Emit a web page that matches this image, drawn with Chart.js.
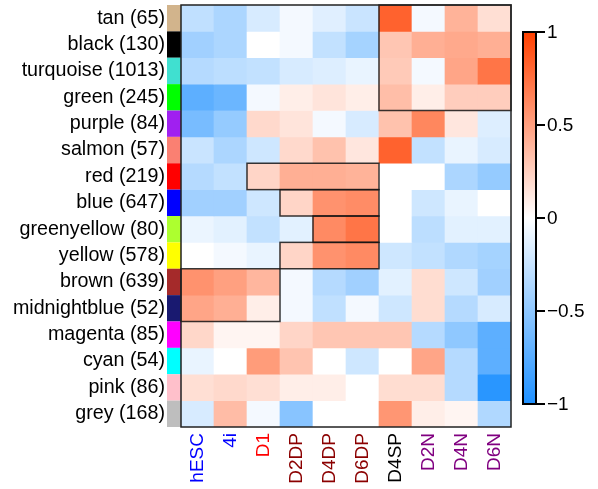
<!DOCTYPE html>
<html>
<head>
<meta charset="utf-8">
<script src="https://cdn.jsdelivr.net/npm/chart.js@4"></script>
<style>
  html, body { margin: 0; padding: 0; background: #fff; }
  #wrap { width: 598px; height: 489px; }
</style>
</head>
<body>
<div id="wrap"><canvas id="heat"></canvas></div>
<script>
const rows = ['tan (65)', 'black (130)', 'turquoise (1013)', 'green (245)', 'purple (84)', 'salmon (57)',
    'red (219)', 'blue (647)', 'greenyellow (80)', 'yellow (578)', 'brown (639)', 'midnightblue (52)',
    'magenta (85)', 'cyan (54)', 'pink (86)', 'grey (168)']
const rowColors = ['#D2B48C', '#000000', '#40E0D0', '#00FF00', '#A020F0', '#FA8072', '#FF0000', '#0000FF',
    '#ADFF2F', '#FFFF00', '#A52A2A', '#191970', '#FF00FF', '#00FFFF', '#FFC0CB', '#BEBEBE']

const cols = ['hESC', '4i', 'D1', 'D2DP', 'D4DP', 'D6DP', 'D4SP', 'D2N', 'D4N', 'D6N']
const colColors = ['#0000FF', '#0000FF', '#FF0000', '#8B0000', '#8B0000', '#8B0000', '#000000', '#800080', '#800080', '#800080']

// module-trait correlations, one row per module
const corr = [
    [-0.28, -0.37, -0.18, -0.05, -0.14, -0.24, 0.82, -0.05, 0.40, 0.17],
    [-0.42, -0.37, 0.00, -0.05, -0.27, -0.40, 0.30, 0.42, 0.45, 0.42],
    [-0.33, -0.30, -0.27, -0.18, -0.15, -0.10, 0.28, -0.05, 0.47, 0.72],
    [-0.72, -0.66, -0.05, 0.09, 0.14, 0.09, 0.34, 0.09, 0.26, 0.26],
    [-0.60, -0.47, 0.20, 0.14, -0.05, -0.18, 0.32, 0.63, 0.13, -0.15],
    [-0.24, -0.37, -0.22, 0.20, 0.32, 0.13, 0.82, -0.27, -0.10, -0.18],
    [-0.33, -0.27, 0.22, 0.42, 0.42, 0.40, 0.00, 0.00, -0.37, -0.47],
    [-0.42, -0.42, -0.22, 0.22, 0.57, 0.60, 0.00, -0.22, -0.10, 0.00],
    [-0.09, -0.13, -0.27, -0.13, 0.61, 0.72, 0.00, -0.30, -0.13, -0.13],
    [0.00, -0.05, -0.10, 0.22, 0.57, 0.61, -0.22, -0.27, -0.35, -0.40],
    [0.57, 0.50, 0.38, -0.05, -0.33, -0.42, -0.13, 0.18, -0.22, -0.42],
    [0.47, 0.42, 0.09, -0.05, -0.28, -0.05, -0.22, 0.18, -0.33, -0.18],
    [0.21, 0.05, 0.05, 0.22, 0.30, 0.30, 0.30, -0.33, -0.50, -0.72],
    [-0.10, 0.00, 0.52, 0.31, 0.00, -0.22, 0.00, 0.47, -0.33, -0.72],
    [0.17, 0.20, 0.17, 0.09, 0.09, 0.00, 0.18, 0.18, -0.33, -0.95],
    [-0.18, 0.35, -0.05, -0.53, 0.00, 0.00, 0.55, 0.09, 0.05, -0.35]
]

// highlighted blocks: [firstRow, lastRow, firstCol, lastCol]
const boxes = [[0, 3, 6, 9], [6, 6, 2, 5], [7, 7, 3, 5], [8, 8, 4, 5], [9, 9, 3, 5], [10, 11, 0, 2]]

const cbTicks = [1, 0.5, 0, -0.5, -1]

const lowCol = [30, 144, 255]
const highCol = [255, 64, 0]

function colorFor(v) {
    const end = v < 0 ? lowCol : highCol
    const t = Math.min(1, Math.abs(v))
    const c = end.map(e => Math.round(255 + (e - 255) * t))
    return `rgb(${c[0]},${c[1]},${c[2]})`
}

const datasets = corr.map((vals, r) => ({
    label: rows[r],
    data: vals.map(() => [r, r + 1]),
    backgroundColor: vals.map(colorFor),
    borderWidth: 0,
    barPercentage: 1.0,
    categoryPercentage: 1.0
}))

const FONT = 'Liberation Sans, Arial, sans-serif'

const extras = {
    id: 'extras',
    afterDatasetsDraw(chart) {
        const { ctx, chartArea: a, scales: { x, y } } = chart
        const cw = x.width / cols.length
        const colL = c => x.getPixelForValue(c) - cw / 2
        ctx.save()

        // module colour strip
        rows.forEach((_, r) => {
            const y0 = y.getPixelForValue(r), y1 = y.getPixelForValue(r + 1)
            ctx.fillStyle = rowColors[r]
            ctx.fillRect(a.left - 14, y0, 14, y1 - y0)
        })

        // highlighted blocks
        ctx.strokeStyle = 'rgba(20,20,20,0.85)'
        ctx.lineWidth = 1.5
        boxes.forEach(([r0, r1, c0, c1]) => {
            const x0 = colL(c0), x1 = colL(c1) + cw
            const y0 = y.getPixelForValue(r0), y1 = y.getPixelForValue(r1 + 1)
            ctx.strokeRect(x0, y0, x1 - x0, y1 - y0)
        })

        // plot border
        ctx.strokeStyle = '#222'
        ctx.lineWidth = 1.5
        ctx.strokeRect(a.left, a.top, a.right - a.left, a.bottom - a.top)

        // colour bar
        const bx = a.right + 12, bw = 13
        const top = a.top + 27, bot = a.bottom - 23
        const g = ctx.createLinearGradient(0, top, 0, bot)
        g.addColorStop(0, colorFor(1))
        g.addColorStop(0.5, colorFor(0))
        g.addColorStop(1, colorFor(-1))
        ctx.fillStyle = g
        ctx.fillRect(bx, top, bw, bot - top)
        ctx.strokeStyle = '#000'
        ctx.lineWidth = 2
        ctx.strokeRect(bx, top, bw, bot - top)

        ctx.fillStyle = '#000'
        ctx.font = '19px ' + FONT
        ctx.textBaseline = 'middle'
        ctx.textAlign = 'left'
        cbTicks.forEach(v => {
            const py = top + (1 - v) / 2 * (bot - top)
            ctx.beginPath()
            ctx.moveTo(bx + bw, py)
            ctx.lineTo(bx + bw + 9, py)
            ctx.stroke()
            const txt = v < 0 ? '\u2212' + String(-v) : String(v)
            ctx.fillText(txt, bx + bw + 11, py + 1)
        })
        ctx.restore()
    }
}

const ctx = document.getElementById('heat').getContext('2d')

new Chart(ctx, {
    type: 'bar',
    data: { labels: cols, datasets: datasets },
    options: {
        responsive: true,
        maintainAspectRatio: false,
        animation: false,
        grouped: false,
        layout: { padding: { top: 5, right: 87, bottom: 0, left: 0 } },
        plugins: { legend: { display: false }, tooltip: { enabled: false } },
        scales: {
            x: {
                grid: { display: false, drawTicks: false },
                border: { display: false },
                ticks: {
                    minRotation: 90,
                    maxRotation: 90,
                    padding: 6,
                    autoSkip: false,
                    font: { family: FONT, size: 19 },
                    color: c => colColors[c.index]
                },
                afterFit: s => {
                    s.height = 62
                    s.paddingLeft = 0
                    s.paddingRight = 0
                }
            },
            y: {
                min: 0,
                max: rows.length,
                reverse: true,
                grid: { display: false, drawTicks: false },
                border: { display: false },
                afterBuildTicks: s => { s.ticks = rows.map((_, i) => ({ value: i + 0.5 })) },
                ticks: {
                    padding: 16,
                    autoSkip: false,
                    color: '#000',
                    font: { family: FONT, size: 19.7 },
                    callback: (v, i) => rows[i]
                },
                afterFit: s => {
                    s.width = 181
                    s.paddingTop = 0
                    s.paddingBottom = 0
                }
            }
        }
    },
    plugins: [extras]
})
</script>
</body>
</html>
